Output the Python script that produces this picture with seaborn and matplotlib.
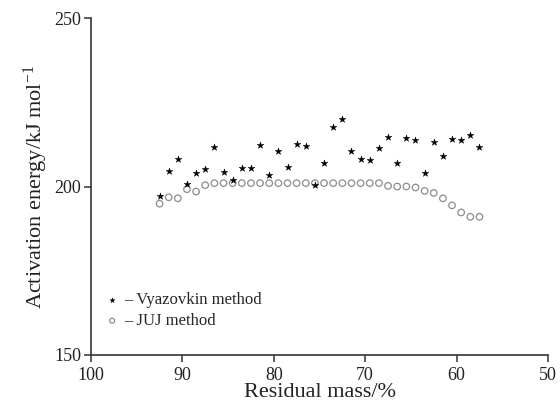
import pandas as pd
import seaborn as sns
import matplotlib.pyplot as plt

# residual mass (%) for each conversion step
residual_mass = [92.5, 91.5, 90.5, 89.5, 88.5, 87.5, 86.5, 85.5, 84.5, 83.5,
                 82.5, 81.5, 80.5, 79.5, 78.5, 77.5, 76.5, 75.5, 74.5, 73.5,
                 72.5, 71.5, 70.5, 69.5, 68.5, 67.5, 66.5, 65.5, 64.5, 63.5,
                 62.5, 61.5, 60.5, 59.5, 58.5, 57.5]

vyazovkin = [197.2, 204.5, 208.1, 200.7, 204.1, 205.1, 211.8, 204.3, 202.0, 205.5,
             205.5, 212.3, 203.4, 210.6, 205.8, 212.5, 212.0, 200.3, 207.0, 217.7,
             220.1, 210.6, 208.2, 207.8, 211.5, 214.6, 206.9, 214.4, 213.9, 204.0,
             213.1, 209.1, 214.2, 213.8, 215.3, 211.8]

juj = [194.9, 196.8, 196.5, 199.2, 198.5, 200.4, 201.0, 201.0, 201.0, 201.0,
       201.0, 201.0, 201.0, 201.0, 201.0, 201.0, 201.0, 201.0, 201.0, 201.0,
       201.0, 201.0, 201.0, 201.0, 201.0, 200.2, 200.0, 200.0, 199.7, 198.7,
       198.1, 196.5, 194.4, 192.3, 191.0, 191.0]

x_ticks = [100, 90, 80, 70, 60, 50]
y_ticks = [150, 200, 250]

df = pd.DataFrame({"mass": residual_mass, "Vyazovkin": vyazovkin, "JUJ": juj})

sns.set_style("ticks")
plt.rcParams["font.family"] = ["Liberation Serif", "DejaVu Serif"]
plt.rcParams["mathtext.fontset"] = "custom"
plt.rcParams["mathtext.rm"] = "Liberation Serif"
plt.rcParams["mathtext.it"] = "Liberation Serif:italic"

fig = plt.figure(figsize=(5.6, 4.04), dpi=100)
ax = fig.add_axes([0.1625, 0.1213, 0.8161, 0.8341])

sns.scatterplot(data=df, x="mass", y="JUJ", ax=ax, marker="o", s=22,
                facecolor="none", edgecolor="#8c8c8c", linewidth=0.9,
                label="\u2013 JUJ method", zorder=2)
sns.scatterplot(data=df, x="mass", y="Vyazovkin", ax=ax, marker="*", s=26,
                color="black", edgecolor="black", linewidth=0.3,
                label="\u2013 Vyazovkin method", zorder=3)

ax.set_xlim(100, 50)
ax.set_ylim(150, 250)
ax.set_xticks(x_ticks)
ax.set_yticks(y_ticks)
ax.tick_params(axis="both", direction="out", length=5, width=1.1,
               color="#333333", labelsize=13, labelcolor="#222222")
ax.tick_params(axis="x", pad=4)
ax.tick_params(axis="y", pad=2)
for side in ["left", "bottom"]:
    ax.spines[side].set_linewidth(1.2)
    ax.spines[side].set_color("#333333")
sns.despine(ax=ax)

ax.set_xlabel("Residual mass/%", fontsize=16, color="#222222", labelpad=-1)
ax.set_ylabel("Activation energy/kJ mol$^{-1}$", fontsize=16, color="#222222",
              labelpad=3)

handles, labels = ax.get_legend_handles_labels()
ax.legend(handles[::-1], labels[::-1], loc="center left",
          bbox_to_anchor=(0.028, 0.132), frameon=False, fontsize=12,
          handlelength=1.0, handletextpad=0.2, labelspacing=0.3,
          markerscale=0.75, borderaxespad=0, borderpad=0)

fig.savefig("out.png", dpi=100)
